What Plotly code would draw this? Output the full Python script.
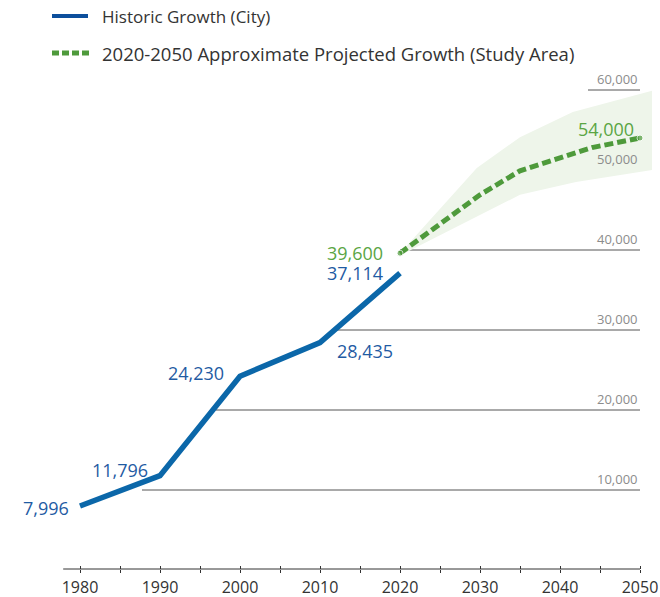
import plotly.graph_objects as go

# ---- data ----
hist_years = [1980, 1990, 2000, 2010, 2020]
hist_pop = [7996, 11796, 24230, 28435, 37114]
hist_labels = ["7,996", "11,796", "24,230", "28,435", "37,114"]

proj_years = [2020, 2030, 2035, 2044, 2050]
proj_pop = [39600, 46900, 49900, 52800, 54000]
proj_labels = {2020: "39,600", 2050: "54,000"}

band_upper_years = [2020, 2029.6, 2035, 2041.6, 2051.5]
band_upper = [39600, 50250, 54100, 57250, 59900]
band_lower_years = [2020, 2035, 2042, 2051.5]
band_lower = [39300, 46900, 48500, 50000]

grid_values = [10000, 20000, 30000, 40000, 50000, 60000]
grid_labels = ["10,000", "20,000", "30,000", "40,000", "50,000", "60,000"]
grid_start_years = [1987.75, 1997, 2011.6, 2020, 2033.4, 2043.5]

tick_years = list(range(1980, 2051, 5))
tick_text = [str(y) if y % 10 == 0 else "" for y in tick_years]

# ---- styles ----
FONT = "Open Sans"
BLUE_LINE = "#0b67a9"
BLUE_TEXT = "#1f5ba3"
BLUE_LEGEND = "#0d4f9c"
GREEN_LINE = "#4e9a3b"
GREEN_TEXT = "#5aa544"
BAND = "#eef5ea"
W, H = 660, 597
BASE = 570     # pixel row of value 0
AXIS = 569     # pixel row of x-axis line

fig = go.Figure()

# uncertainty band
fig.add_trace(go.Scatter(x=band_lower_years, y=band_lower, mode="lines",
                         line=dict(width=0, color=BAND), hoverinfo="skip", showlegend=False))
fig.add_trace(go.Scatter(x=band_upper_years, y=band_upper, mode="lines", fill="tonexty",
                         fillcolor=BAND, line=dict(width=0, color=BAND),
                         hoverinfo="skip", showlegend=False))

# projected growth
fig.add_trace(go.Scatter(x=proj_years, y=proj_pop, mode="lines+markers",
                         line=dict(color=GREEN_LINE, width=5, dash="9px,4px"),
                         marker=dict(color=GREEN_LINE,
                                     size=[6 if y in proj_labels else 0 for y in proj_years]),
                         name="2020-2050 Approximate Projected Growth (Study Area)",
                         showlegend=False))

# historic growth
fig.add_trace(go.Scatter(x=hist_years, y=hist_pop, mode="lines",
                         line=dict(color=BLUE_LINE, width=5.5),
                         name="Historic Growth (City)", showlegend=False))

# partial gridlines with labels
for v, lab, x0 in zip(grid_values, grid_labels, grid_start_years):
    fig.add_shape(type="line", xref="x", yref="y", x0=x0, x1=2050, y0=v, y1=v,
                  line=dict(color="#555555", width=1), layer="below")
    fig.add_annotation(x=2050, y=v, xref="x", yref="y", text=lab, showarrow=False,
                       xanchor="right", yanchor="bottom", yshift=0,
                       font=dict(family=FONT, size=13, color="#8c8c8c"))

# x axis baseline
fig.add_shape(type="line", xref="x", yref="paper", x0=1977.9, x1=2050,
              y0=(H - AXIS) / H, y1=(H - AXIS) / H, line=dict(color="#333333", width=1))

# data labels
hist_offsets = [(-9, -2, "right"), (-10, 6, "right"), (-14, 3, "right"),
                (15, -8, "left"), (-15, 0, "right")]
for x, y, t, (dx, dy, xa) in zip(hist_years, hist_pop, hist_labels, hist_offsets):
    fig.add_annotation(x=x, y=y, text=t, showarrow=False, xanchor=xa, yanchor="middle",
                       xshift=dx, yshift=dy, font=dict(family=FONT, size=18, color=BLUE_TEXT))
proj_offsets = {2020: (-15, 0), 2050: (-4, 9)}
for x, y in zip(proj_years, proj_pop):
    if x in proj_labels:
        dx, dy = proj_offsets[x]
        fig.add_annotation(x=x, y=y, text=proj_labels[x], showarrow=False, xanchor="right",
                           yanchor="middle", xshift=dx, yshift=dy,
                           font=dict(family=FONT, size=18, color=GREEN_TEXT))

# legend (manual)
fig.add_shape(type="line", xref="paper", yref="paper", x0=52 / W, x1=88 / W,
              y0=1 - 16 / H, y1=1 - 16 / H, line=dict(color=BLUE_LEGEND, width=4))
fig.add_shape(type="line", xref="paper", yref="paper", x0=52 / W, x1=89 / W,
              y0=1 - 53 / H, y1=1 - 53 / H, line=dict(color=GREEN_LINE, width=5, dash="7px,3px"))
fig.add_annotation(xref="paper", yref="paper", x=100 / W, y=1 - 16 / H, text="Historic Growth (City)",
                   showarrow=False, xanchor="left", yanchor="middle",
                   font=dict(family=FONT, size=17, color="#333333"))
fig.add_annotation(xref="paper", yref="paper", x=100 / W, y=1 - 53 / H,
                   text="2020-2050 Approximate Projected Growth (Study Area)",
                   showarrow=False, xanchor="left", yanchor="middle",
                   font=dict(family=FONT, size=18.5, color="#333333"))

x_range = [1980 - 80 / 8, 1980 + (W - 80) / 8]
y_dom0 = (H - AXIS) / H
y_range = [(BASE - AXIS) / 0.008, BASE / 0.008]

fig.update_layout(
    width=W, height=H, margin=dict(l=0, r=0, t=0, b=0, autoexpand=False),
    paper_bgcolor="white", plot_bgcolor="white",
    font=dict(family=FONT),
    xaxis=dict(range=x_range, domain=[0, 1], tickmode="array", tickvals=tick_years,
               ticktext=tick_text, ticks="outside", ticklen=3, tickcolor="#333333",
               ticklabelstandoff=1, automargin=False,
               showgrid=False, zeroline=False, showline=False,
               tickfont=dict(family=FONT, size=16, color="#333333")),
    xaxis2=dict(range=x_range, overlaying="x", anchor="y", side="bottom", tickmode="array",
                tickvals=tick_years, ticktext=[""] * len(tick_years), ticks="inside", ticklen=3,
                automargin=False,
                tickcolor="#333333", showgrid=False, zeroline=False, showline=False),
    yaxis=dict(range=y_range, domain=[y_dom0, 1], visible=False, showgrid=False, zeroline=False),
)
# dummy trace to activate xaxis2
fig.add_trace(go.Scatter(x=[2000], y=[None], xaxis="x2", showlegend=False, hoverinfo="skip"))

fig.write_html("out.html", config={"displayModeBar": False},
               post_script="document.body.style.margin='0';document.body.style.padding='0';")
